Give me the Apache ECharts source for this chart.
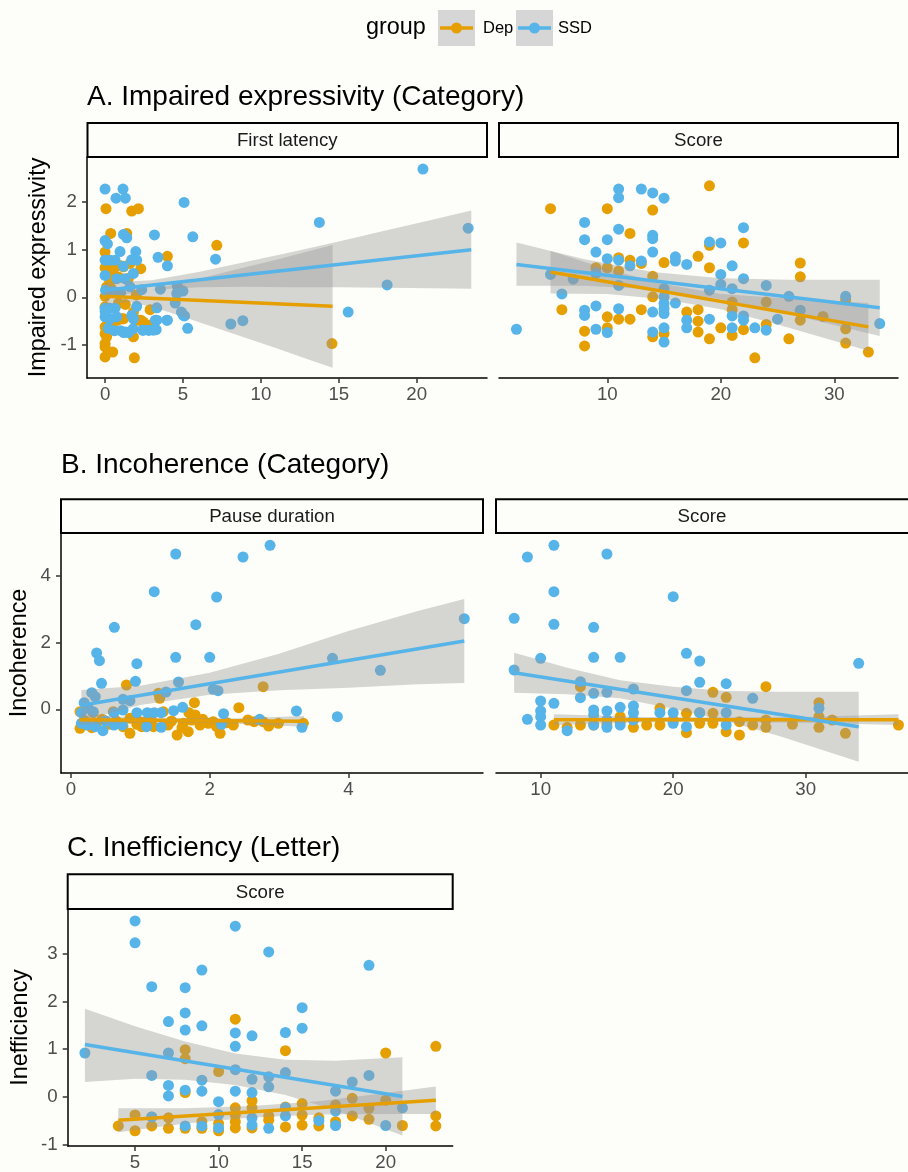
<!DOCTYPE html>
<html><head><meta charset="utf-8">
<script src="https://cdn.jsdelivr.net/npm/echarts@6/dist/echarts.min.js"></script>
<style>html,body{margin:0;padding:0;background:#fdfdf9;}#c{width:908px;height:1172px;}</style>
</head><body><div id="c"></div>
<script>
// ---------------- DATA ----------------
const groups = ['Dep', 'SSD'];
const panelTitles = ['A. Impaired expressivity (Category)', 'B. Incoherence (Category)', 'C. Inefficiency (Letter)'];
const stripLabels = ['First latency', 'Score', 'Pause duration', 'Score', 'Score'];
const yTitles = ['Impaired expressivity', 'Incoherence', 'Inefficiency'];

const xTicksA1 = [0, 5, 10, 15, 20];
const xTicksA2 = [10, 20, 30];
const xTicksB1 = [0, 2, 4];
const xTicksB2 = [10, 20, 30];
const xTicksC = [5, 10, 15, 20];
const yTicksA = [-1, 0, 1, 2];
const yTicksB = [0, 2, 4];
const yTicksC = [-1, 0, 1, 2, 3];

// Panel A1: First latency
const a1Dep = [[0.06,1.86],[1.71,1.81],[2.14,1.86],[0.36,1.34],[1.39,1.34],[0,0.95],[7.17,1.09],[4.0,0.86],[2.29,0.60],[0,0.62],[0.5,0.58],[1.0,0.66],[0.2,0.45],[0.6,0.47],[0.9,0.42],[0.1,0.22],[0.4,0.18],[0,0.02],[0.86,-0.12],[2.89,-0.26],[2.3,-0.48],[2.9,-0.58],[2.14,-0.48],[2.46,-0.52],[0.81,-0.48],[1.18,-0.45],[0,-0.62],[0,-0.76],[0.1,-0.83],[1.82,-0.83],[0,-0.97],[0,-1.04],[0,-1.25],[0.49,-1.15],[1.88,-1.27],[14.56,-0.97],[1.18,0.64],[1.6,0.71],[0.39,-0.59],[0.64,-0.69],[0,-0.2],[1.82,-0.31],[1.1,-0.45],[0.3,0.32],[1.5,0.4],[0.7,0.1],[1.3,-0.15],[2.0,0.05]];
const a1Ssd = [[20.4,2.69],[23.3,1.45],[13.75,1.57],[18.1,0.26],[15.6,-0.31],[8.07,-0.56],[8.84,-0.49],[5.07,1.99],[5.63,1.27],[3.17,1.31],[3.4,0.84],[4.0,0.66],[7.09,0.80],[3.55,0.17],[4.6,0.08],[5.0,0.13],[4.5,-0.12],[4.9,-0.31],[5.1,-0.39],[5.3,-0.65],[4.0,-0.48],[3.23,-0.48],[3.28,-0.68],[2.46,-0.69],[2.8,-0.69],[0,2.27],[1.15,2.27],[0.7,2.08],[1.3,2.08],[0,1.19],[0.15,1.12],[1.18,1.32],[1.39,1.25],[0.96,0.96],[1.97,0.96],[0,0.78],[0.32,0.78],[0.64,0.78],[1.71,0.79],[2.03,0.78],[1.18,0.65],[0,0.46],[1.82,0.5],[0.75,0.39],[1.28,0.39],[0.03,0.15],[0.5,0.12],[1.6,0.22],[2.35,0.16],[4.64,0.23],[0,-0.23],[0.32,-0.23],[0.64,-0.23],[2.03,-0.19],[3.32,-0.22],[0,-0.41],[0.32,-0.45],[0.75,-0.41],[1.71,-0.38],[1.82,-0.45],[5.03,-0.38],[3.32,-0.48],[3.96,-0.48],[0.2,-0.65],[0.6,-0.7],[1.0,-0.7],[1.3,-0.73],[1.8,-0.66],[2.4,-0.69],[2.8,-0.69],[3.1,-0.69],[1.2,-0.74],[1.5,-0.74],[0,-0.3],[1.0,0.1]];
const a1DepFit = [[0,0.02],[14.6,-0.19]];
const a1DepBandX = [0,1.5,3,5,7,9,11,13,14.6];
const a1DepBandLo = [-0.16,-0.10,-0.20,-0.41,-0.63,-0.85,-1.07,-1.30,-1.48];
const a1DepBandHi = [0.20,0.10,0.16,0.31,0.47,0.63,0.79,0.96,1.10];
const a1SsdFit = [[0,0.15],[23.5,1.0]];
const a1SsdBandX = [0,3,6,9,12,15,18,21,23.5];
const a1SsdBandLo = [-0.01,0.16,0.21,0.22,0.21,0.21,0.20,0.19,0.18];
const a1SsdBandHi = [0.31,0.36,0.53,0.74,0.95,1.17,1.40,1.63,1.82];

// Panel A2: Score
const a2Dep = [[5,1.86],[6,-0.26],[8,-0.71],[8,-1.02],[9,0.62],[10,1.86],[10,0.62],[10,-0.41],[10,-0.64],[11,0.83],[11,0.55],[11,-0.46],[12,1.34],[12,0.78],[12,-0.46],[13,0.71],[13,-0.26],[14,1.83],[14,0.44],[14,0.01],[14,-0.83],[15,0.73],[15,-0.76],[17,-0.31],[18,0.86],[18,-0.26],[18,-0.5],[18,-0.73],[19,2.34],[19,1.09],[19,0.62],[19,-0.87],[20,-0.64],[21,-0.1],[21,-0.26],[21,-0.8],[22,1.14],[22,-0.68],[23,-1.27],[24,-0.1],[24,-0.57],[26,-0.87],[27,0.72],[27,0.43],[27,-0.48],[29,-0.4],[31,-0.66],[31,-0.96],[31,-0.05],[33,-1.15]];
const a2Ssd = [[2,-0.67],[5,0.48],[6,0.07],[7,0.38],[8,1.57],[8,1.21],[8,-0.27],[8,-0.38],[9,0.95],[9,0.5],[9,-0.18],[9,-0.67],[10,1.21],[10,0.81],[10,-0.74],[11,2.27],[11,2.09],[11,1.43],[11,0.78],[11,0.25],[11,-0.24],[12,0.66],[13,2.27],[13,0.76],[14,2.19],[14,1.30],[14,1.23],[14,0.95],[14,-0.31],[14,-0.73],[15,2.08],[15,0.18],[15,0.01],[15,-0.13],[15,-0.24],[15,-0.34],[15,-0.64],[15,-0.94],[16,0.85],[16,0.76],[16,-0.12],[17,0.69],[17,-0.48],[17,-0.64],[19,1.16],[19,0.15],[19,-0.46],[20,1.14],[20,0.48],[20,0.27],[21,0.66],[21,0.18],[21,-0.39],[21,-0.64],[22,1.46],[22,0.39],[22,-0.39],[22,-0.48],[23,-0.64],[24,0.25],[24,-0.69],[25,-0.46],[26,0.02],[27,-0.27],[31,0.02],[34,-0.55]];
const a2DepFit = [[5,0.53],[33,-0.62]];
const a2DepBandX = [5,10,15,20,25,33];
const a2DepBandLo = [0.08,0.07,-0.04,-0.25,-0.57,-1.12];
const a2DepBandHi = [0.97,0.59,0.28,0.07,-0.01,-0.12];
const a2SsdFit = [[2,0.69],[34,-0.22]];
const a2SsdBandX = [2,8,14,20,26,34];
const a2SsdBandLo = [0.24,0.24,0.17,-0.04,-0.35,-0.81];
const a2SsdBandHi = [1.15,0.80,0.53,0.40,0.37,0.37];

// Panel B1: Pause duration
const b1Dep = [[0.13,-0.07],[0.13,-0.57],[0.32,-0.1],[0.37,-0.42],[0.61,-0.07],[0.8,0.73],[0.85,-0.27],[0.85,-0.72],[0.75,-0.52],[1.0,-0.37],[1.02,-0.52],[1.26,0.48],[1.28,0.33],[1.33,-0.07],[1.19,-0.52],[1.4,-0.47],[1.53,-0.77],[1.62,-0.42],[1.74,-0.32],[1.79,-0.17],[1.78,0.2],[1.69,-0.67],[1.86,-0.47],[1.98,-0.42],[2.05,-0.37],[2.1,-0.52],[2.15,-0.72],[2.34,-0.47],[2.42,0.05],[2.55,-0.32],[2.64,-0.37],[2.77,0.68],[2.77,-0.37],[2.85,-0.5],[2.99,-0.42],[3.35,-0.42],[0.2,-0.35],[0.45,-0.3],[0.55,-0.45],[0.65,-0.35],[0.95,-0.45],[1.1,-0.35],[1.15,-0.3],[1.45,-0.35],[1.6,-0.55],[1.9,-0.3],[2.25,-0.4],[0.3,-0.55],[1.7,-0.1]];
const b1Ssd = [[1.51,4.66],[2.48,4.57],[2.87,4.92],[1.2,3.53],[2.1,3.37],[0.625,2.46],[1.8,2.54],[0.37,1.69],[0.41,1.46],[0.95,1.37],[1.51,1.56],[2.0,1.56],[0.44,0.78],[0.93,0.84],[1.55,0.82],[5.67,2.72],[3.77,1.53],[4.46,1.17],[3.84,-0.22],[3.25,-0.05],[3.33,-0.54],[2.05,0.6],[2.12,0.56],[1.37,0.52],[0.3,0.5],[0.35,0.38],[0.75,0.3],[0.85,0.26],[0.19,0.2],[0.25,0.03],[0.32,-0.07],[0.62,-0.1],[0.75,-0.02],[0.95,-0.1],[1.1,-0.1],[1.2,-0.1],[1.3,-0.1],[1.48,-0.04],[1.61,0.06],[2.2,-0.13],[2.17,-0.45],[2.72,-0.3],[0.15,-0.42],[0.23,-0.47],[0.35,-0.52],[0.46,-0.64],[0.62,-0.47],[0.74,-0.47],[1.09,-0.52],[1.3,-0.54],[0.15,-0.1],[0.5,-0.35]];
const b1DepFit = [[0.12,-0.31],[3.36,-0.36]];
const b1DepBandX = [0.12,0.8,1.6,2.4,3.36];
const b1DepBandLo = [-0.47,-0.41,-0.40,-0.43,-0.52];
const b1DepBandHi = [-0.15,-0.23,-0.26,-0.27,-0.20];
const b1SsdFit = [[0.15,0.12],[5.67,2.05]];
const b1SsdBandX = [0.15,1,2,3,4,5,5.67];
const b1SsdBandLo = [-0.34,0.13,0.44,0.57,0.65,0.75,0.79];
const b1SsdBandHi = [0.58,0.71,1.10,1.67,2.35,2.95,3.31];

// Panel B2: Score
const b2Dep = [[11,-0.47],[12,-0.54],[13,0.68],[13,-0.47],[14,-0.47],[15,-0.47],[16,-0.22],[16,-0.37],[17,-0.54],[18,-0.47],[19,0.03],[19,-0.47],[20,-0.32],[21,-0.12],[21,-0.7],[22,-0.1],[22,-0.42],[23,0.51],[23,-0.12],[23,-0.42],[24,0.36],[24,-0.67],[25,-0.37],[25,-0.77],[26,-0.47],[27,0.68],[27,-0.32],[27,-0.54],[29,-0.45],[31,0.2],[31,-0.22],[31,-0.54],[32,-0.32],[33,-0.72],[37,-0.47]];
const b2Ssd = [[8,2.73],[8,1.18],[9,4.57],[9,-0.3],[10,1.53],[10,0.25],[10,-0.05],[10,-0.22],[10,-0.47],[11,4.92],[11,3.53],[11,2.55],[11,0.18],[12,-0.64],[13,0.83],[13,0.35],[14,2.46],[14,1.56],[14,0.48],[14,-0.02],[14,-0.17],[14,-0.47],[15,4.66],[15,0.51],[15,-0.05],[15,-0.32],[15,-0.54],[16,1.56],[16,0.06],[16,-0.47],[17,0.61],[17,0.1],[17,-0.1],[17,-0.32],[19,-0.1],[20,3.38],[20,-0.1],[20,-0.42],[21,1.68],[21,0.56],[21,-0.52],[22,1.45],[22,0.81],[22,-0.1],[24,0.77],[24,-0.1],[24,-0.47],[26,0.33],[31,0.03],[34,1.38]];
const b2DepFit = [[11,-0.31],[37,-0.31]];
const b2DepBandX = [11,18,24,30,37];
const b2DepBandLo = [-0.47,-0.39,-0.38,-0.40,-0.47];
const b2DepBandHi = [-0.15,-0.23,-0.24,-0.23,-0.15];
const b2SsdFit = [[8,1.1],[34,-0.52]];
const b2SsdBandX = [8,12,16,20,24,28,34];
const b2SsdBandLo = [0.5,0.45,0.33,0.02,-0.35,-0.8,-1.57];
const b2SsdBandHi = [1.7,1.25,0.87,0.68,0.55,0.53,0.53];

// Panel C: Score
const cDep = [[4,-0.61],[5,-0.38],[5,-0.71],[6,-0.42],[6,-0.61],[7,-0.44],[7,-0.66],[8,0.99],[8,0.8],[8,0.09],[8,-0.66],[9,-0.52],[9,-0.66],[10,0.53],[10,-0.56],[10,-0.71],[11,1.63],[11,-0.23],[11,-0.38],[11,-0.52],[11,-0.65],[12,-0.08],[12,-0.23],[12,-0.65],[13,-0.4],[13,-0.49],[14,0.97],[14,-0.21],[14,-0.63],[15,-0.14],[15,-0.38],[15,-0.59],[16,-0.44],[16,-0.61],[17,-0.17],[17,-0.52],[18,-0.03],[18,-0.4],[19,-0.24],[19,-0.47],[20,0.92],[20,-0.07],[21,-0.6],[23,1.06],[23,-0.4],[23,-0.61]];
const cSsd = [[2,0.92],[5,3.69],[5,3.23],[6,2.31],[6,0.45],[6,-0.42],[7,1.58],[7,0.92],[7,0.24],[7,0.02],[8,2.29],[8,1.76],[8,1.40],[8,0.14],[8,-0.61],[9,2.66],[9,1.49],[9,0.35],[9,0.12],[9,-0.61],[10,-0.1],[10,-0.37],[10,-0.65],[11,3.58],[11,1.34],[11,1.06],[11,0.57],[11,0.12],[12,1.28],[12,0.37],[12,0.09],[12,-0.44],[12,-0.59],[13,3.04],[13,0.42],[13,0.21],[13,-0.66],[14,1.35],[14,0.51],[14,-0.23],[14,-0.4],[15,1.87],[15,1.44],[16,-0.5],[17,0.12],[17,-0.3],[17,-0.6],[18,0.31],[19,2.76],[19,0.45],[20,-0.6],[21,-0.23]];
const cDepFit = [[4,-0.49],[23,-0.07]];
const cDepBandX = [4,8,12,16,20,23];
const cDepBandLo = [-0.74,-0.56,-0.43,-0.37,-0.36,-0.36];
const cDepBandHi = [-0.24,-0.24,-0.19,-0.09,0.08,0.22];
const cSsdFit = [[2,1.1],[21,0.01]];
const cSsdBandX = [2,5,8,11,14,17,21];
const cSsdBandLo = [0.31,0.38,0.36,0.25,0.04,-0.28,-0.81];
const cSsdBandHi = [1.85,1.48,1.16,0.91,0.78,0.76,0.83];

// ---------------- STYLE / LAYOUT ----------------
const FONT = '"Liberation Sans", Arial, Helvetica, sans-serif';
const COL = { Dep: '#E69F00', SSD: '#56B4E9' };
const BG = '#fdfdf9';
const BAND = 'rgba(153,153,153,0.4)';
const TICK_FS = 18.7, TITLE_FS = 23.4, MAIN_FS = 28, LEG_FS = 16.5;

const grids = [
  { left: 87, top: 157, width: 400, height: 221 },
  { left: 499, top: 157, width: 399, height: 221 },
  { left: 61, top: 533, width: 422, height: 240 },
  { left: 496, top: 533, width: 412, height: 240 },
  { left: 67.7, top: 909, width: 385, height: 238.7 }
];
const xRanges = [[-1.16, 24.51], [0.46, 35.61], [-0.144, 5.94], [6.63, 37.72], [0.97, 24.01]];
const yRanges = [[-1.693, 2.944], [-1.693, 2.944], [-1.91, 5.29], [-1.91, 5.29], [-1.03, 3.94]];
const xTicks = [xTicksA1, xTicksA2, xTicksB1, xTicksB2, xTicksC];
const yTicks = [yTicksA, yTicksA, yTicksB, yTicksB, yTicksC];
const yShow = [true, false, true, false, true];
const yName = [yTitles[0], '', yTitles[1], '', yTitles[2]];
const yGap = [37, 0, 30, 0, 36];

function xAxis(i) {
  return {
    type: 'value', gridIndex: i, min: xRanges[i][0], max: xRanges[i][1],
    axisLine: { show: true, onZero: false, lineStyle: { color: '#000', width: 1.5 } },
    axisTick: { show: true, length: 5, customValues: xTicks[i], lineStyle: { color: '#333', width: 1.5 } },
    axisLabel: { customValues: xTicks[i], color: '#4d4d4d', fontSize: TICK_FS, fontFamily: FONT, margin: 7 },
    splitLine: { show: false }
  };
}
function yAxis(i) {
  return {
    type: 'value', gridIndex: i, min: yRanges[i][0], max: yRanges[i][1], show: yShow[i],
    name: yName[i], nameLocation: 'middle', nameRotate: 90, nameGap: yGap[i],
    nameTextStyle: { color: '#000', fontSize: TITLE_FS, fontFamily: FONT },
    axisLine: { show: true, onZero: false, lineStyle: { color: '#000', width: 1.5 } },
    axisTick: { show: true, length: 5, customValues: yTicks[i], lineStyle: { color: '#333', width: 1.5 } },
    axisLabel: { customValues: yTicks[i], color: '#4d4d4d', fontSize: TICK_FS, fontFamily: FONT, margin: 10 },
    splitLine: { show: false }
  };
}

function scatter(i, data, g) {
  return { type: 'scatter', xAxisIndex: i, yAxisIndex: i, data: data, symbolSize: 11,
    itemStyle: { color: COL[g], opacity: 1 }, silent: true, z: 2 };
}
function band(i, xs, lo, hi) {
  return { type: 'custom', xAxisIndex: i, yAxisIndex: i, data: [[xs[0], lo[0]]], silent: true, z: 3,
    renderItem: function (params, api) {
      const pts = [];
      for (let k = 0; k < xs.length; k++) pts.push(api.coord([xs[k], hi[k]]));
      for (let k = xs.length - 1; k >= 0; k--) pts.push(api.coord([xs[k], lo[k]]));
      return { type: 'polygon', shape: { points: pts }, style: { fill: BAND } };
    } };
}
function fit(i, data, g) {
  return { type: 'line', xAxisIndex: i, yAxisIndex: i, data: data, symbol: 'none', silent: true, z: 3,
    lineStyle: { color: COL[g], width: 3.5 } };
}
function panel(i, dep, ssd, depFit, depBand, ssdFit, ssdBand) {
  return [
    scatter(i, dep, 'Dep'), scatter(i, ssd, 'SSD'),
    band(i, depBand[0], depBand[1], depBand[2]), fit(i, depFit, 'Dep'),
    band(i, ssdBand[0], ssdBand[1], ssdBand[2]), fit(i, ssdFit, 'SSD')
  ];
}

const series = [].concat(
  panel(0, a1Dep, a1Ssd, a1DepFit, [a1DepBandX, a1DepBandLo, a1DepBandHi], a1SsdFit, [a1SsdBandX, a1SsdBandLo, a1SsdBandHi]),
  panel(1, a2Dep, a2Ssd, a2DepFit, [a2DepBandX, a2DepBandLo, a2DepBandHi], a2SsdFit, [a2SsdBandX, a2SsdBandLo, a2SsdBandHi]),
  panel(2, b1Dep, b1Ssd, b1DepFit, [b1DepBandX, b1DepBandLo, b1DepBandHi], b1SsdFit, [b1SsdBandX, b1SsdBandLo, b1SsdBandHi]),
  panel(3, b2Dep, b2Ssd, b2DepFit, [b2DepBandX, b2DepBandLo, b2DepBandHi], b2SsdFit, [b2SsdBandX, b2SsdBandLo, b2SsdBandHi]),
  panel(4, cDep, cSsd, cDepFit, [cDepBandX, cDepBandLo, cDepBandHi], cSsdFit, [cSsdBandX, cSsdBandLo, cSsdBandHi])
);

// graphic: titles, strips, legend
const strips = [
  { x: 87.5, y: 123, w: 399.5, h: 34 },
  { x: 499, y: 123, w: 399, h: 34 },
  { x: 61, y: 499.3, w: 422, h: 33.7 },
  { x: 496, y: 499.3, w: 420, h: 33.7 },
  { x: 67.7, y: 874.3, w: 385, h: 34.7 }
];
const graphics = [];
strips.forEach(function (s, i) {
  graphics.push({ type: 'rect', shape: { x: s.x, y: s.y, width: s.w, height: s.h },
    style: { fill: BG, stroke: '#000', lineWidth: 2 }, z: 10 });
  const cx = i === 3 ? s.x + 412 / 2 : s.x + s.w / 2;
  graphics.push({ type: 'text', x: cx, y: s.y + s.h / 2 + 1, z: 11,
    style: { text: stripLabels[i], fontSize: TICK_FS, fontFamily: FONT, fill: '#1a1a1a', align: 'center', verticalAlign: 'middle' } });
});
const titlePos = [[87, 97], [61, 465], [67, 848]];
panelTitles.forEach(function (t, i) {
  graphics.push({ type: 'text', x: titlePos[i][0], y: titlePos[i][1], z: 11,
    style: { text: t, fontSize: MAIN_FS, fontFamily: FONT, fill: '#000', align: 'left', verticalAlign: 'middle' } });
});
// legend
graphics.push({ type: 'text', x: 366, y: 28, style: { text: 'group', fontSize: TITLE_FS, fontFamily: FONT, fill: '#000', align: 'left', verticalAlign: 'middle' } });
const legendKeys = [{ g: 'Dep', x: 438, tx: 483 }, { g: 'SSD', x: 516, tx: 558 }];
legendKeys.forEach(function (k) {
  graphics.push({ type: 'rect', shape: { x: k.x, y: 10, width: 37, height: 36 }, style: { fill: '#d6d6d6' } });
  graphics.push({ type: 'line', shape: { x1: k.x + 2, y1: 28, x2: k.x + 35, y2: 28 }, style: { stroke: COL[k.g], lineWidth: 3.5 } });
  graphics.push({ type: 'circle', shape: { cx: k.x + 18.5, cy: 28, r: 5.5 }, style: { fill: COL[k.g] } });
  graphics.push({ type: 'text', x: k.tx, y: 28, style: { text: k.g, fontSize: LEG_FS, fontFamily: FONT, fill: '#000', align: 'left', verticalAlign: 'middle' } });
});

const chart = echarts.init(document.getElementById('c'), null, { renderer: 'canvas' });
chart.setOption({
  backgroundColor: BG,
  animation: false,
  grid: grids.map(function (g) { return Object.assign({ containLabel: false }, g); }),
  xAxis: grids.map(function (g, i) { return xAxis(i); }),
  yAxis: grids.map(function (g, i) { return yAxis(i); }),
  series: series,
  graphic: graphics
});
</script></body></html>
